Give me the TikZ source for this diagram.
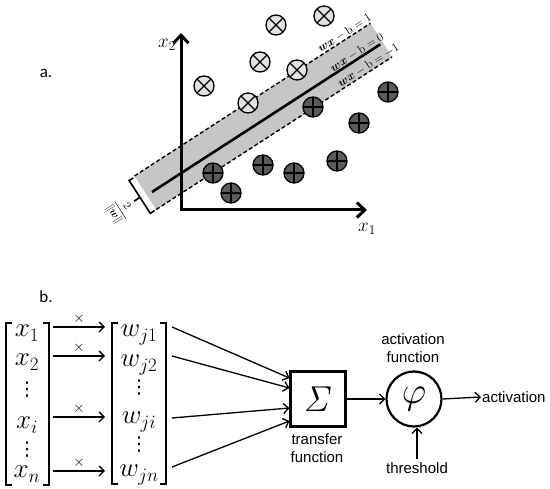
\RequirePackage{fix-cm}
\documentclass[tikz,border=0pt]{standalone}
\usepackage{amsmath,amssymb}
\usepackage[no-math]{fontspec}
\usetikzlibrary{arrows.meta,calc}
\newfontfamily\arialf{Liberation Sans}
\newfontfamily\calibrif{Carlito}
\newfontfamily\djvf{DejaVu Sans}
\definecolor{bandgray}{HTML}{C6C6C6}
\definecolor{xfill}{HTML}{E2E2E2}
\definecolor{pfill}{HTML}{5A5A5A}
\tikzset{
  xc/.style={circle, draw, line width=1.3pt, fill=xfill, minimum size=20pt, inner sep=0pt,
    path picture={\draw[line width=1.2pt] (path picture bounding box.north west) -- (path picture bounding box.south east)
      (path picture bounding box.north east) -- (path picture bounding box.south west);}},
  pc/.style={circle, draw, line width=1.3pt, fill=pfill, minimum size=20pt, inner sep=0pt,
    path picture={\draw[line width=1.2pt] (path picture bounding box.north) -- (path picture bounding box.south)
      (path picture bounding box.east) -- (path picture bounding box.west);}},
  band/.style={shift={(152,192)}, rotate=32.9},
  axis/.style={line width=3pt, {Straight Barb[length=8pt,width=15pt]}-{Straight Barb[length=8pt,width=15pt]}},
  lbl/.style={rotate=32.9, anchor=south west, inner sep=1pt, font=\fontsize{12}{13}\selectfont},
  ent/.style={inner sep=0pt, font=\fontsize{27}{30}\selectfont},
  dts/.style={inner sep=0pt, font=\djvf\fontsize{19}{20}\selectfont},
  brk/.style={line width=1.8pt},
  arr/.style={line width=1.3pt, -{Straight Barb[length=5pt,width=10pt]}},
  sf/.style={font=\arialf\fontsize{15}{18}\selectfont, align=center},
  panel/.style={font=\calibrif\fontsize{17}{20}\selectfont, inner sep=0pt},
  mul/.style={midway, above=1.5pt, inner sep=1pt, font=\fontsize{15}{15}\selectfont}
}
\begin{document}
\begin{tikzpicture}[x=1pt,y=-1pt]
\useasboundingbox (0,0) rectangle (550,489);
% ---------- panel a ----------
\node[panel] (la) at (46,73) {a.};
\begin{scope}[band]
  \fill[bandgray] (-6,-23) rectangle (275,17);
\end{scope}
\draw[axis] (181,33) -- (181,210) -- (367,210);
\node[font=\fontsize{19}{22}\selectfont, inner sep=0pt] (ax2) at (167,45) {$x_2$};
\node[font=\fontsize{19}{22}\selectfont, inner sep=0pt] (ax1) at (367,229) {$x_1$};
\begin{scope}[band]
  \draw[line width=2.6pt] (0,0) -- (272,0);
  \draw[line width=1.4pt, dash pattern=on 4pt off 2.5pt] (-6,-23) -- (275,-23);
  \draw[line width=1.4pt, dash pattern=on 4pt off 2.5pt] (-6,17) -- (275,17);
  \draw[line width=1.6pt] (-8,-22) -- (-13,-22) -- (-13,17) -- (-8,17);
  \draw[line width=1.6pt] (-13,-2) -- (-20,-2);
  \node[rotate=-57.1, inner sep=0pt, font=\fontsize{11}{13}\selectfont] (mg) at (-37,-2) {$\dfrac{2}{\|\boldsymbol{w}\|}$};
  \node[lbl] (l1) at (216,-23) {$\boldsymbol{wx}-\mathrm{b}=1$};
  \node[lbl] (l0) at (216,0) {$\boldsymbol{wx}-\mathrm{b}=0$};
  \node[lbl] (lm) at (214,17) {$\boldsymbol{wx}-\mathrm{b}=-1$};
\end{scope}
\foreach \px/\py [count=\k] in {204/86, 260/62, 276/25, 324/16, 297/70, 248/103}
  \node[xc] (cx\k) at (\px,\py) {};
\foreach \px/\py [count=\k] in {313/107, 359/123, 388/92, 213/173, 263/165, 294/173, 337/161, 231/193}
  \node[pc] (cp\k) at (\px,\py) {};
% ---------- panel b ----------
\node[panel] (lb) at (46,297) {b.};
% x vector
\node[ent, anchor=base] (x1) at (27,337) {$x_1$};
\node[ent, anchor=base] (x2) at (27,366) {$x_2$};
\node[dts] (xd1) at (27,390) {⋮};
\node[ent, anchor=base] (xi) at (27,429) {$x_i$};
\node[dts] (xd2) at (27,450) {⋮};
\node[ent, anchor=base] (xn) at (27,478) {$x_n$};
\draw[brk] (12,323) -- (6,323) -- (6,485) -- (12,485);
\draw[brk] (43,323) -- (49,323) -- (49,485) -- (43,485);
% w vector
\node[ent, anchor=base] (w1) at (139,337) {$w_{j1}$};
\node[ent, anchor=base] (w2) at (139,367) {$w_{j2}$};
\node[dts] (wd1) at (139,388) {⋮};
\node[ent, anchor=base] (wi) at (139,424) {$w_{ji}$};
\node[dts] (wd2) at (139,445) {⋮};
\node[ent, anchor=base] (wn) at (139,477) {$w_{jn}$};
\draw[brk] (118,323) -- (112,323) -- (112,484) -- (118,484);
\draw[brk] (160,323) -- (166,323) -- (166,484) -- (160,484);
\coordinate (xR) at (53,0);
\coordinate (wL) at (105,0);
\coordinate (wR) at (172,0);
% multiplication arrows
\draw[arr] ([yshift=10pt]x1.base -| xR) -- ([yshift=10pt]x1.base -| wL) node[mul] {$\times$};
\draw[arr] ([yshift=10pt]x2.base -| xR) -- ([yshift=10pt]x2.base -| wL) node[mul] {$\times$};
\draw[arr] ([yshift=12pt]xi.base -| xR) -- ([yshift=12pt]xi.base -| wL) node[mul] {$\times$};
\draw[arr] ([yshift=7pt]xn.base -| xR) -- ([yshift=7pt]xn.base -| wL) node[mul] {$\times$};
% transfer
\node[draw, line width=2.2pt, minimum size=55pt, inner sep=0pt, font=\fontsize{36}{36}\selectfont] (sum) at (318,399) {$\mathit{\Sigma}$};
\node[sf] (tf) at (317,448) {transfer\\function};
\draw[arr] ([yshift=10pt]w1.base -| wR) -- ([yshift=21pt]sum.west);
\draw[arr] ([yshift=11pt]w2.base -| wR) -- ([yshift=11pt]sum.west);
\draw[arr] ([yshift=6pt]wi.base -| wR) -- ([yshift=-9pt]sum.west);
\draw[arr] ([yshift=10pt]wn.base -| wR) -- ([yshift=-22pt]sum.west);
% activation
\node[circle, draw, line width=2.2pt, minimum size=55pt, inner sep=0pt, font=\fontsize{38}{38}\selectfont] (phi) at (414,399) {$\varphi$};
\node[sf] (af) at (413,348) {activation\\function};
\draw[arr] (sum) -- (phi);
\node[sf, anchor=west, inner sep=1pt] (act) at (481,397) {activation};
\draw[arr] (phi.east) -- (act.west);
\node[sf] (thr) at (417,468) {threshold};
\draw[arr] (thr.north) -- (thr.north |- phi.south);
\end{tikzpicture}
\end{document}
